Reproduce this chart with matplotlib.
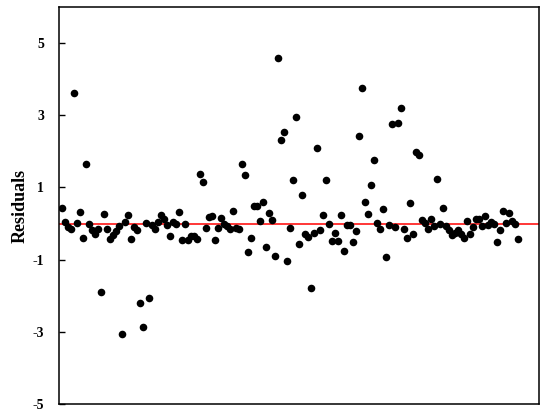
import numpy as np
import matplotlib
matplotlib.use('Agg')
import matplotlib.pyplot as plt

plt.rcParams['font.family'] = ['Liberation Serif', 'DejaVu Serif']

residuals = [
    0.43, 0.04, -0.09, -0.16, 3.61, 0.01, 0.32, -0.41, 1.66, -0.01,
    -0.18, -0.30, -0.16, -1.89, 0.26, -0.15, -0.43, -0.32, -0.21, -0.07,
    -3.07, 0.04, 0.24, -0.44, -0.09, -0.18, -2.20, -2.88, 0.02, -2.07,
    -0.05, -0.14, 0.05, 0.23, 0.14, -0.04, -0.34, 0.05, -0.01, 0.31,
    -0.46, -0.02, -0.46, -0.34, -0.34, -0.44, 1.37, 1.16, -0.12, 0.17,
    0.21, -0.45, -0.13, 0.16, -0.01, -0.07, -0.14, 0.35, -0.12, -0.16,
    1.64, 1.35, -0.80, -0.39, 0.48, 0.50, 0.07, 0.59, -0.66, 0.28,
    0.10, -0.89, 4.59, 2.33, 2.53, -1.03, -0.12, 1.20, 2.96, -0.56,
    0.79, -0.28, -0.36, -1.79, -0.27, 2.10, -0.18, 0.23, 1.22, -0.02,
    -0.48, -0.25, -0.48, 0.24, -0.77, -0.05, -0.05, -0.51, -0.22, 2.42,
    3.76, 0.61, 0.26, 1.06, 1.75, 0.02, -0.16, 0.41, -0.93, -0.04,
    2.75, -0.09, 2.78, 3.21, -0.15, -0.40, 0.58, -0.29, 1.99, 1.91,
    0.10, 0.01, -0.15, 0.12, -0.07, 1.23, -0.02, 0.43, -0.06, -0.18,
    -0.31, -0.25, -0.18, -0.30, -0.41, 0.07, -0.28, -0.10, 0.12, 0.12,
    -0.06, 0.20, -0.03, 0.05, -0.01, -0.51, -0.18, 0.34, 0.02, 0.30,
    0.07, -0.02, -0.42,
]
obs = np.arange(1, len(residuals) + 1)
yticks = [-5, -3, -1, 1, 3, 5]

fig = plt.figure(figsize=(5.5, 4.19), dpi=100)
ax = fig.add_axes([0.108, 0.036, 0.872, 0.947])

ax.scatter(obs, residuals, s=30, color='black', zorder=3, linewidths=0)
ax.axhline(0, color='red', linewidth=1.1, zorder=2)

ax.set_xlim(0, 160)
ax.set_ylim(-5, 6)
ax.set_xticks([])
ax.set_yticks(yticks)
ax.set_yticklabels([str(t) for t in yticks], fontsize=10, fontweight='bold')
ax.tick_params(axis='y', direction='in', length=4, width=1, pad=11)
ax.set_ylabel('Residuals', fontsize=13, fontweight='bold', labelpad=3)

for sp in ax.spines.values():
    sp.set_linewidth(1.1)
    sp.set_color('black')

fig.savefig('out.png', dpi=100)
plt.close(fig)
